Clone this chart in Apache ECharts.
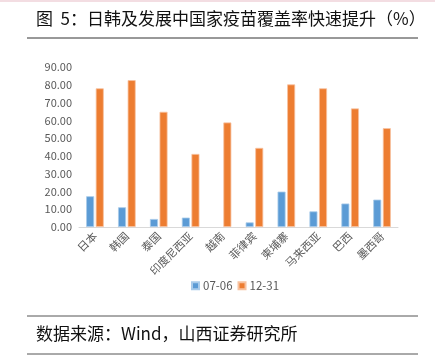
<!DOCTYPE html>
<html><head><meta charset="utf-8">
<script src="https://cdn.jsdelivr.net/npm/echarts@6/dist/echarts.min.js"></script>
<style>html,body{margin:0;padding:0;background:#fff}#c{width:435px;height:358px}</style>
</head><body><div id="c"></div>
<script>
var categories = ['日本','韩国','泰国','印度尼西亚','越南','菲律宾','柬埔寨','马来西亚','巴西','墨西哥'];
var s0706 = [17.3, 11.1, 4.5, 5.3, 0, 2.6, 19.9, 8.8, 13.2, 15.4];
var s1231 = [78.0, 82.6, 64.8, 41.1, 58.8, 44.5, 80.2, 78.0, 66.7, 55.6];
var seriesNames = ['07-06','12-31'];
var yTicks = {min: 0, max: 90, interval: 10};

function hideZero(arr){
  return arr.map(function(v){ return v === 0 ? {value: v, itemStyle: {borderWidth: 0, opacity: 0}} : v; });
}

var chart = echarts.init(document.getElementById('c'));
var font = '"Noto Sans CJK SC","Noto Sans",sans-serif';
chart.setOption({
  animation: false,
  textStyle: {fontFamily: font},
  graphic: [
    {type:'rect', shape:{x:0,y:0,width:435,height:2}, style:{fill:'#f3dde2'}},
    {type:'text', left:36, top:10, style:{text:'图  5：日韩及发展中国家疫苗覆盖率快速提升（%）', font:'17px '+font, fill:'#111'}},
    {type:'line', shape:{x1:27,y1:38,x2:418,y2:38}, style:{stroke:'#333',lineWidth:1}},
    {type:'line', shape:{x1:27,y1:316,x2:418,y2:316}, style:{stroke:'#555',lineWidth:1}},
    {type:'text', left:36, top:325, style:{text:'数据来源：Wind，山西证券研究所', font:'17px '+font, fill:'#111'}},
    {type:'line', shape:{x1:27,y1:354,x2:418,y2:354}, style:{stroke:'#555',lineWidth:1}}
  ],
  legend: {
    data: seriesNames, top: 275, left: 186,
    itemWidth: 7, itemHeight: 7, itemGap: 5, icon: 'rect',
    textStyle: {fontSize: 11.5, color: '#595959', padding: [0,0,0,-1]}
  },
  grid: {left: 79, right: 37, top: 67, bottom: 131, containLabel: false},
  xAxis: {
    type: 'category', data: categories,
    axisLine: {lineStyle: {color: '#d9d9d9'}},
    axisTick: {show: false},
    axisLabel: {rotate: 45, fontSize: 11, color: '#595959', margin: 7, interval: 0}
  },
  yAxis: {
    type: 'value', min: yTicks.min, max: yTicks.max, interval: yTicks.interval,
    splitLine: {show: false}, axisLine: {show: false}, axisTick: {show: false},
    axisLabel: {fontSize: 11, color: '#595959', margin: 7, formatter: function(v){return v.toFixed(2);}}
  },
  series: [
    {name: seriesNames[0], type: 'bar', data: hideZero(s0706), barWidth: 8, barGap: '20%',
     itemStyle: {color: '#5b9bd5', borderColor: '#a9cbea', borderWidth: 0.8}},
    {name: seriesNames[1], type: 'bar', data: hideZero(s1231), barWidth: 8,
     itemStyle: {color: '#ed7d31', borderColor: '#f7c2a0', borderWidth: 0.8}}
  ]
});
</script></body></html>
